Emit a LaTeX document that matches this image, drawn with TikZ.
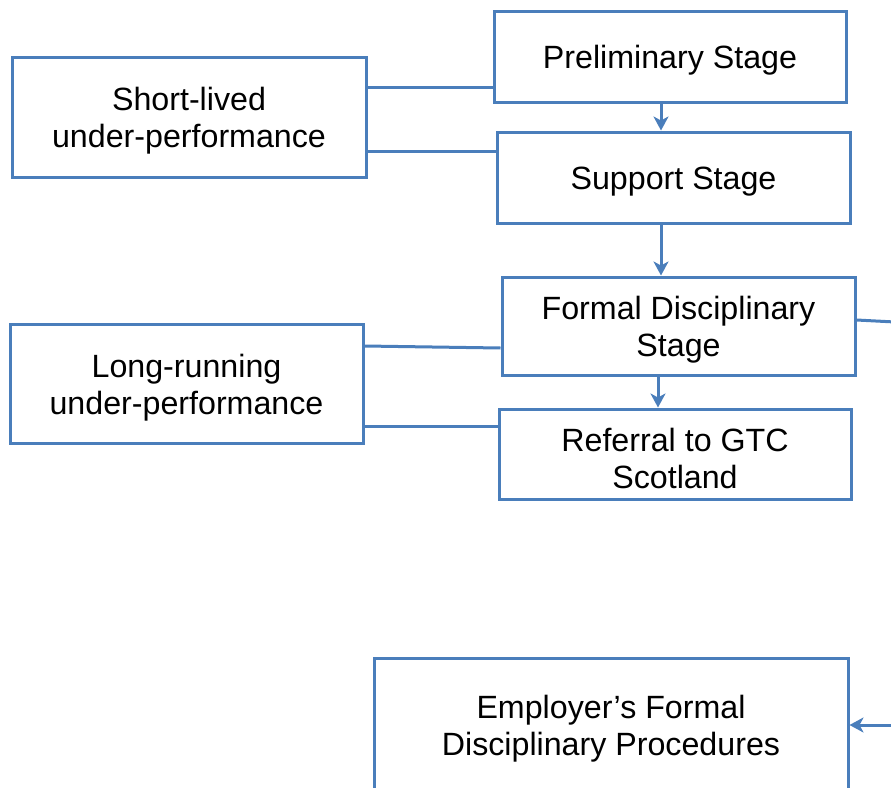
\documentclass[tikz,border=0pt]{standalone}
\usepackage{fontspec}
\setmainfont{Liberation Sans}
\usetikzlibrary{arrows.meta}
\definecolor{lineblue}{HTML}{4A7EBB}
\tikzset{
  box/.style={draw=lineblue, line width=3pt, rectangle, inner sep=0pt,
    label={[align=center, font=\fontsize{32.2}{37}\selectfont, text=black, yshift=-4pt, inner sep=0pt]center:#1}},
  conn/.style={draw=lineblue, line width=3pt},
  arr/.style={conn, -{Stealth[width=15pt,length=14pt,inset=4pt]}}
}
\begin{document}
\begin{tikzpicture}[x=1pt,y=-1pt]
\useasboundingbox (0,0) rectangle (891,787);
\clip (0,0) rectangle (891,787);
\node[box={Preliminary Stage}, minimum width=352pt, minimum height=91pt] (pre) at (670,56.5) {};
\node[box={Support Stage}, minimum width=353pt, minimum height=91pt] (sup) at (673.5,177.5) {};
\node[box={Short-lived\\under-performance}, minimum width=354pt, minimum height=120pt] (short) at (189,117) {};
\node[box={Formal Disciplinary\\Stage}, minimum width=353pt, minimum height=98pt] (form) at (678.5,326) {};
\node[box={Long-running\\under-performance}, minimum width=353pt, minimum height=119pt] (long) at (186.5,383.5) {};
\node[box={Referral to GTC\\Scotland}, minimum width=352pt, minimum height=90pt] (ref) at (675,454) {};
\node[box={Employer’s Formal\\Disciplinary Procedures}, minimum width=474pt, minimum height=134pt] (emp) at (611,725) {};
\coordinate (offa) at (895,322);
\coordinate (offb) at (895,725);
% connectors
\draw[conn] (short.east |- 0,87) -- (pre.west |- 0,87);
\draw[conn] (short.east |- 0,151) -- (sup.west |- 0,151);
\draw[conn] (long.east |- 0,346) -- (form.west |- 0,348);
\draw[conn] (long.east |- 0,426) -- (ref.west |- 0,426);
\draw[conn] (form.east |- 0,320) -- (offa);
\draw[arr] (pre.south -| 661,0) -- (sup.north -| 661,0);
\draw[arr] (sup.south -| 661,0) -- (form.north -| 661,0);
\draw[arr] (form.south -| 658,0) -- (ref.north -| 658,0);
\draw[arr] (offb) -- (emp.east |- 0,725);
\end{tikzpicture}
\end{document}
